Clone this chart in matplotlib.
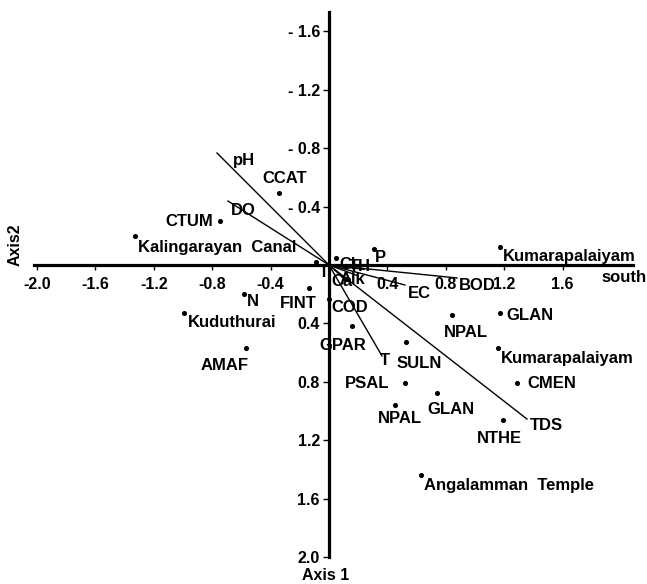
import matplotlib
matplotlib.use("Agg")
import matplotlib.pyplot as plt
import numpy as np

# ---------------- data ----------------
site_names = ["CCAT", "CTUM", "Kalingarayan  Canal", "N", "FINT", "Kuduthurai", "AMAF",
              "COD", "GPAR", "NPAL", "GLAN", "Kumarapalaiyam", "SULN", "PSAL", "CMEN",
              "GLAN", "NPAL", "NTHE", "Angalamman  Temple", "Kumarapalaiyam", "P", "T", ""]
site_x = [-0.34, -0.75, -1.33, -0.58, -0.14, -0.99, -0.57,
          0.00, 0.16, 0.84, 1.17, 1.16, 0.53, 0.52, 1.29,
          0.74, 0.45, 1.19, 0.63, 1.17, 0.31, -0.09, 0.05]
site_y = [-0.49, -0.30, -0.20, 0.20, 0.16, 0.33, 0.57,
          0.23, 0.42, 0.34, 0.33, 0.57, 0.53, 0.81, 0.81,
          0.88, 0.96, 1.06, 1.44, -0.12, -0.11, -0.02, -0.05]

vec_names = ["pH", "DO", "TDS", "T", "BOD", "EC", "TH", "Alk", "Cl", "Ca"]
vec_x = [-0.767, -0.692, 1.356, 0.363, 0.877, 0.52, 0.24, 0.20, 0.14, 0.10]
vec_y = [-0.767, -0.438, 1.055, 0.623, 0.089, 0.137, 0.03, 0.075, 0.02, 0.09]

xticks = [-2.0, -1.6, -1.2, -0.8, -0.4, 0.4, 0.8, 1.2, 1.6]
xtick_labels = ["-2.0", "-1.6", "-1.2", "-0.8", "-0.4", "0.4", "0.8", "1.2", "1.6"]
yticks = [-1.6, -1.2, -0.8, -0.4, 0.4, 0.8, 1.2, 1.6, 2.0]
ytick_labels = ["- 1.6", "- 1.2", "- 0.8", "- 0.4", "0.4", "0.8", "1.2", "1.6", "2.0"]

# ---------------- styles (label offsets in pixels) ----------------
site_off = [(5, -15), (-6, 0), (3, 12), (3, 7), (-10, 15), (3, 9), (-21, 17),
            (2, 9), (-10, 19), (14, 18), (7, 2), (3, 10), (13, 21), (-16, 0), (10, 0),
            (14, 16), (5, 13), (-3, 19), (3, 10), (3, 9), (1, 9), (8, 10), (0, 0)]
site_ha = ["center", "right", "left", "left", "center", "left", "center",
           "left", "center", "center", "left", "left", "center", "right", "left",
           "center", "center", "center", "left", "left", "left", "center", "center"]
vec_off = [(27, 7), (15, 9), (3, 6), (3, 5), (2, 8), (3, 8),
           (-4, -3), (-6, 4), (-2, -3), (-2, 3)]
vec_ha = ["center", "center", "left", "center", "left", "left",
          "center", "center", "center", "center"]

FONT = "Liberation Sans"
FS = 12
TFS = 11.5
DPI = 100
W, H = 647, 584
PPU = 146.0         # pixels per unit
X0, Y0 = 329.0, 265.0

fig = plt.figure(figsize=(W / DPI, H / DPI), dpi=DPI)
ax = fig.add_axes([0, 0, 1, 1])
ax.set_xlim(-X0 / PPU, (W - X0) / PPU)
ax.set_ylim((H - Y0) / PPU, -Y0 / PPU)
ax.set_facecolor("white")

for s in ["top", "right"]:
    ax.spines[s].set_visible(False)
ax.spines["left"].set_position("zero")
ax.spines["bottom"].set_position("zero")
ax.spines["left"].set_bounds(-1.73, 2.0)
ax.spines["bottom"].set_bounds(-2.02, 2.08)
for s in ["left", "bottom"]:
    ax.spines[s].set_linewidth(2.3)
    ax.spines[s].set_zorder(5)

ax.set_xticks(xticks)
ax.set_xticklabels(xtick_labels)
ax.set_yticks(yticks)
ax.set_yticklabels(ytick_labels)
ax.tick_params(axis="x", direction="out", length=3.5, width=1, pad=5, labelsize=TFS)
ax.tick_params(axis="y", direction="out", length=4.5, width=1, pad=2, labelsize=TFS)
for lab in ax.get_xticklabels() + ax.get_yticklabels():
    lab.set_fontfamily(FONT)
    lab.set_fontweight("bold")

px = 72.0 / DPI  # points per pixel

# vectors
for name, vx, vy, off, ha in zip(vec_names, vec_x, vec_y, vec_off, vec_ha):
    ax.plot([0, vx], [0, vy], color="black", lw=1.0, zorder=3)
    ax.annotate(name, (vx, vy), xytext=(off[0] * px, -off[1] * px), textcoords="offset points",
                ha=ha, va="center", fontsize=FS, fontweight="bold", family=FONT, zorder=4)

# sites
ax.scatter(site_x, site_y, s=7, color="black", zorder=4)
for name, sx, sy, off, ha in zip(site_names, site_x, site_y, site_off, site_ha):
    if name:
        ax.annotate(name, (sx, sy), xytext=(off[0] * px, -off[1] * px), textcoords="offset points",
                    ha=ha, va="center", fontsize=FS, fontweight="bold", family=FONT, zorder=4)
# second line of "Kumarapalaiyam south"
ax.annotate("south", (site_x[19], site_y[19]), xytext=(124 * px, -30 * px), textcoords="offset points",
            ha="center", va="center", fontsize=FS, fontweight="bold", family=FONT)

# axis titles
fig.text(15 / W, 1 - 245 / H, "Axis2", rotation=90, ha="center", va="center",
         fontsize=TFS, fontweight="bold", family=FONT)
fig.text(326 / W, 1 - 575 / H, "Axis 1", ha="center", va="center",
         fontsize=TFS, fontweight="bold", family=FONT)

fig.savefig("out.png", dpi=DPI, facecolor="white")
